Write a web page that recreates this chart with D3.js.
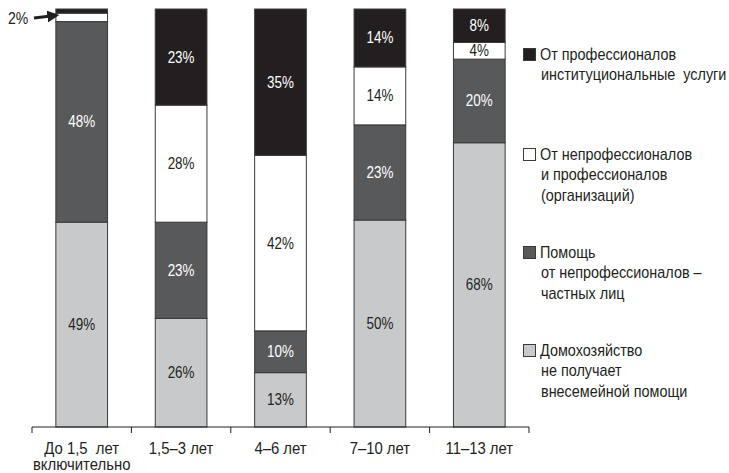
<!DOCTYPE html>
<html><head><meta charset="utf-8">
<script src="https://d3js.org/d3.v7.min.js"></script>
<style>
body{margin:0;background:#fff;}
text{font-family:"Liberation Sans",Arial,sans-serif;}
</style></head>
<body><svg id="c" width="729" height="473"></svg>
<script>
const categories = ["До 1,5  лет|включительно", "1,5–3 лет", "4–6 лет", "7–10 лет", "11–13 лет"];
const seriesNames = ["Домохозяйство не получает внесемейной помощи", "Помощь от непрофессионалов – частных лиц", "От непрофессионалов и профессионалов (организаций)", "От профессионалов институциональные услуги"];
const householdNoHelp = [49, 26, 13, 50, 68];
const privateHelp = [48, 23, 10, 23, 20];
const orgHelp = [2, 28, 42, 14, 4];
const institutional = [1, 23, 35, 14, 8];
const legendLines = [
  ["От профессионалов", "институциональные  услуги"],
  ["От непрофессионалов", "и профессионалов", "(организаций)"],
  ["Помощь", "от непрофессионалов –", "частных лиц"],
  ["Домохозяйство", "не получает", "внесемейной помощи"]
];
const colors = ["#c8c9cb", "#58595b", "#ffffff", "#231f20"];
const textColors = ["#231f20", "#ffffff", "#231f20", "#ffffff"];

const svg = d3.select("#c");
function ctext(parent, x, y, str, size, fill, anchor, sx) {
  return parent.append("text")
    .attr("transform", `translate(${x},${y}) scale(${sx},1)`)
    .attr("text-anchor", anchor || "start")
    .attr("font-size", size).attr("fill", fill).style("white-space", "pre").text(str);
}

const seriesData = [householdNoHelp, privateHelp, orgHelp, institutional];
const rows = categories.map((c, i) => {
  const r = {cat: c};
  seriesData.forEach((s, k) => r["s" + k] = s[i]);
  return r;
});
const keys = ["s0", "s1", "s2", "s3"];
const stacked = d3.stack().keys(keys).offset(d3.stackOffsetExpand)(rows);

const x = d3.scaleBand().domain(categories).range([32, 529]).paddingInner(0.48).paddingOuter(0.24);
const y = d3.scaleLinear().domain([0, 1]).range([427, 9]);

const g = svg.append("g");
stacked.forEach((layer, k) => {
  g.selectAll(".r" + k).data(layer).enter().append("rect")
    .attr("x", d => x(d.data.cat))
    .attr("width", x.bandwidth())
    .attr("y", d => y(d[1]))
    .attr("height", d => y(d[0]) - y(d[1]))
    .attr("fill", colors[k])
    .attr("stroke", "#3a3a3a")
    .attr("stroke-width", 1);
  layer.forEach(d => {
    if (d.data["s" + k] >= 4) {
      ctext(g, x(d.data.cat) + x.bandwidth() / 2, (y(d[0]) + y(d[1])) / 2 + 5.5,
        d.data["s" + k] + "%", 16, textColors[k], "middle", 0.84);
    }
  });
});

// annotation for small 2% in first bar
const first = stacked[2][0];
const fx = x(categories[0]);
svg.append("defs").append("marker").attr("id", "ah").attr("viewBox", "0 0 10 10")
  .attr("refX", 8).attr("refY", 5).attr("markerWidth", 4).attr("markerHeight", 4).attr("orient", "auto")
  .append("path").attr("d", "M0,0L10,5L0,10z").attr("fill", "#231f20");
svg.append("line").attr("x1", 34).attr("y1", 18).attr("x2", fx + 1).attr("y2", (y(first[0]) + y(first[1])) / 2 - 2)
  .attr("stroke", "#231f20").attr("stroke-width", 3).attr("marker-end", "url(#ah)");
ctext(svg, 8, 24, orgHelp[0] + "%", 16, "#231f20", "start", 0.88);

// axis
const axis = svg.append("g").attr("transform", "translate(0,427)");
axis.append("line").attr("x1", 32).attr("x2", 529).attr("stroke", "#231f20");
const tickPos = d3.range(categories.length + 1).map(i => 32 + i * (497 / categories.length));
axis.selectAll(".tk").data(tickPos).enter().append("line")
  .attr("x1", d => d).attr("x2", d => d).attr("y1", 0).attr("y2", 6).attr("stroke", "#231f20");
categories.forEach(c => {
  const parts = c.split("|");
  parts.forEach((p, j) => {
    ctext(axis, x(c) + x.bandwidth() / 2, 27 + j * 16, p, 16, "#231f20", "middle", 0.93);
  });
});

// legend
const legTops = [48, 148, 246, 344];
const legend = svg.append("g");
legendLines.forEach((lines, i) => {
  const k = 3 - i;
  legend.append("rect").attr("x", 523.5).attr("y", legTops[i] + 0.5).attr("width", 12).attr("height", 12)
    .attr("fill", colors[k]).attr("stroke", "#3a3a3a");
  lines.forEach((l, j) => {
    ctext(legend, j === 0 ? 540 : 541, legTops[i] + 11.5 + j * 20.5, l, 16, "#231f20", "start", 0.9);
  });
});
</script></body></html>
